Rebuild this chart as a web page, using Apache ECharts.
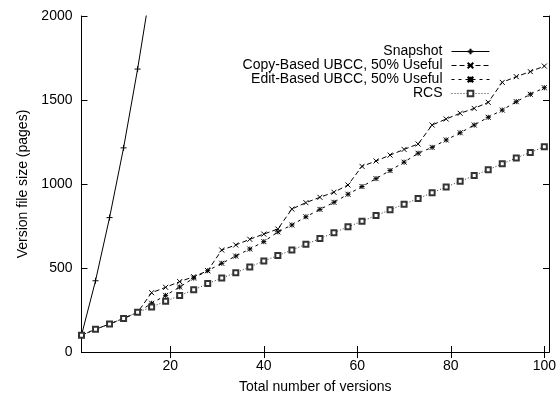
<!DOCTYPE html>
<html>
<head>
<meta charset="utf-8">
<script src="https://cdn.jsdelivr.net/npm/echarts@6/dist/echarts.min.js"></script>
<style>
html,body{margin:0;padding:0;background:#fff;}
#chart{width:558px;height:399px;}
</style>
</head>
<body>
<div id="chart"></div>
<script>
// ---- data ----
const versions = [1,4,7,10,13,16,19,22,25,28,31,34,37,40,43,46,49,52,55,58,61,64,67,70,73,76,79,82,85,88,91,94,97,100];
const snapshotVersions = [1,4,7,10,13,16];
const snapshot = [100,424,800,1215,1684,2200];
const copyBased = [100,135,167,200,236,353,385,419,448,484,607,637,671,702,732,851,889,921,951,994,1105,1137,1172,1206,1238,1351,1387,1421,1450,1486,1605,1639,1669,1702];
const editBased = [100,135,167,200,236,290,337,387,440,484,528,571,613,657,715,756,805,849,891,939,985,1032,1080,1130,1183,1218,1262,1305,1351,1397,1440,1490,1534,1573];
const rcs = [100,135,167,200,236,268,302,336,370,407,440,472,506,542,574,607,641,675,710,745,778,812,846,880,913,948,982,1016,1050,1085,1120,1155,1188,1222];
const xTicks = [20,40,60,80,100];
const seriesNames = ['Snapshot','Copy-Based UBCC, 50% Useful','Edit-Based UBCC, 50% Useful','RCS'];
const xTitle = 'Total number of versions';
const yTitle = 'Version file size (pages)';

const font = '"Liberation Sans", Arial, Helvetica, sans-serif';
const pair = (xs, ys) => xs.map((x, i) => [x, ys[i]]);

const SYM_PLUS = 'path://M0,5L10,5M5,0L5,10';
const SYM_X = 'path://M0,0L10,10M10,0L0,10';
const SYM_STAR = 'path://M0,0L10,10M10,0L0,10M5,0L5,10M0,5L10,5';

function lineSeries(name, data, symbol, size, dash, color) {
  return {
    name: name,
    type: 'line',
    data: data,
    xAxisIndex: 0,
    yAxisIndex: 0,
    symbol: symbol,
    symbolSize: size,
    clip: true,
    lineStyle: { color: color, width: 1, type: dash },
    itemStyle: { color: color, borderColor: color, borderWidth: 1 },
    emphasis: { disabled: true }
  };
}

const chart = echarts.init(document.getElementById('chart'), null, { renderer: 'canvas' });
const axisLineStyle = { show: true, lineStyle: { color: '#000', width: 1 } };
chart.setOption({
  animation: false,
  backgroundColor: '#fff',
  textStyle: { fontFamily: font },
  grid: { left: 81.5, right: 9, top: 16, bottom: 47, containLabel: false, outerBoundsMode: 'none' },
  legend: {
    data: seriesNames,
    orient: 'vertical',
    align: 'right',
    right: 68,
    top: 44.5,
    padding: 0,
    itemGap: 0,
    itemWidth: 38,
    itemHeight: 7,
    lineStyle: { width: 1 },
    textStyle: { fontFamily: font, fontSize: 14, color: '#000', lineHeight: 13.5, padding: [0, 4, 0, 0] }
  },
  xAxis: [{
    type: 'value', position: 'bottom', min: 1, max: 101,
    name: xTitle, nameLocation: 'middle', nameGap: 28,
    nameTextStyle: { fontFamily: font, fontSize: 14, color: '#000' },
    axisLine: axisLineStyle,
    axisTick: { show: true, inside: true, length: 6, customValues: xTicks, lineStyle: { color: '#000' } },
    axisLabel: { show: true, customValues: xTicks, margin: 7, fontFamily: font, fontSize: 14, color: '#000' },
    splitLine: { show: false }
  }, {
    type: 'value', position: 'top', min: 1, max: 101,
    axisLine: axisLineStyle,
    axisTick: { show: true, inside: true, length: 6, customValues: xTicks, lineStyle: { color: '#000' } },
    axisLabel: { show: false },
    splitLine: { show: false }
  }],
  yAxis: [{
    type: 'value', position: 'left', min: 0, max: 2000, interval: 500,
    name: yTitle, nameLocation: 'middle', nameGap: 49, nameRotate: 90,
    nameTextStyle: { fontFamily: font, fontSize: 14, color: '#000' },
    axisLine: axisLineStyle,
    axisTick: { show: true, inside: true, length: 6, lineStyle: { color: '#000' } },
    axisLabel: { show: true, margin: 9, fontFamily: font, fontSize: 14, color: '#000', formatter: v => String(v) },
    splitLine: { show: false }
  }, {
    type: 'value', position: 'right', min: 0, max: 2000, interval: 500,
    axisLine: axisLineStyle,
    axisTick: { show: true, inside: true, length: 6, lineStyle: { color: '#000' } },
    axisLabel: { show: false },
    splitLine: { show: false }
  }],
  series: [
    lineSeries(seriesNames[0], pair(snapshotVersions, snapshot), SYM_PLUS, 6, 'solid', '#000'),
    lineSeries(seriesNames[1], pair(versions, copyBased), SYM_X, 5, [5, 3], '#000'),
    lineSeries(seriesNames[2], pair(versions, editBased), SYM_STAR, 5, [3, 4], '#000'),
    lineSeries(seriesNames[3], pair(versions, rcs), 'emptyRect', 5, [1, 2], '#333')
  ]
});
</script>
</body>
</html>
